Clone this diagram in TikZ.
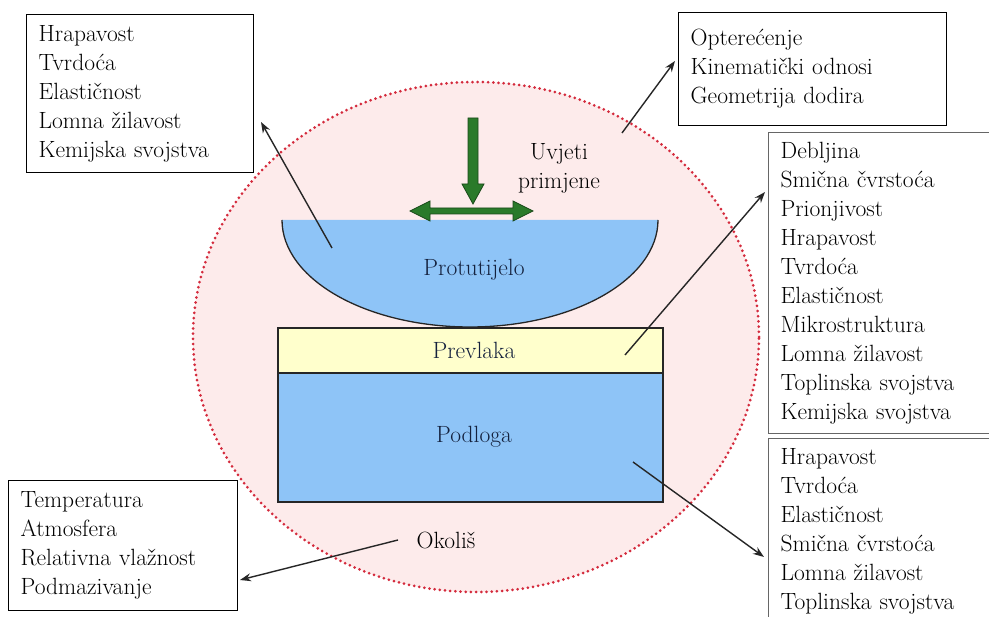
\documentclass[tikz,border=0pt]{standalone}
\usetikzlibrary{arrows.meta}
\begin{document}
\begin{tikzpicture}[x=1pt,y=-1pt,
  listbox/.style={draw=black, line width=1.3pt, fill=white, anchor=north west, align=left,
    inner xsep=12pt, inner ysep=0pt, font=\fontsize{23.5}{29}\selectfont, text=black},
  greybox/.style={listbox, draw=black!60},
  partlabel/.style={font=\fontsize{23.5}{29}\selectfont, text=navy},
  plainlabel/.style={font=\fontsize{23.5}{29}\selectfont, text=black, align=center},
  conn/.style={-{Stealth[length=11pt,width=8pt]}, line width=1.4pt, black!85},
  greenarrow/.style={fill=arrowgreen, draw=arrowgreen!60!black, line width=0.8pt}]
\definecolor{navy}{HTML}{14213D}
\definecolor{pinkfill}{HTML}{FDEBEB}
\definecolor{dotred}{HTML}{D42A3C}
\definecolor{partblue}{HTML}{8EC4F7}
\definecolor{coatyellow}{HTML}{FFFFCC}
\definecolor{arrowgreen}{HTML}{2A7A2A}
\useasboundingbox (0,0) rectangle (989,617);
\fill[white] (0,0) rectangle (989,617);
% environment ellipse
\fill[pinkfill] (476,337) ellipse[x radius=283pt, y radius=255pt];
\draw[dotred, line width=3pt, line cap=round, dash pattern=on 0pt off 5.2pt] (476,337) ellipse[x radius=283pt, y radius=255pt];
% counterbody
\fill[partblue] (282,220) arc[start angle=180, end angle=360, x radius=188pt, y radius=107pt] -- cycle;
\draw[line width=1.3pt, black!85] (282,220) arc[start angle=180, end angle=360, x radius=188pt, y radius=107pt];
% coating and substrate
\draw[line width=1.3pt, black!85, fill=coatyellow] (278,328) rectangle (663,373);
\draw[line width=1.3pt, black!85, fill=partblue] (278,373) rectangle (663,502);
\node[partlabel] (prot) at (474,270) {Protutijelo};
\node[partlabel] (prev) at (474,350) {Prevlaka};
\node[partlabel] (podl) at (474,437) {Podloga};
% green arrows
\draw[greenarrow] (468,118) -- (478,118) -- (478,184) -- (484,184) -- (473,204) -- (462,184) -- (468,184) -- cycle;
\draw[greenarrow] (410,211) -- (430,201) -- (430,208) -- (513,208) -- (513,201) -- (533,211) -- (513,221) -- (513,214) -- (430,214) -- (430,221) -- cycle;
\node[plainlabel] (uvjeti) at (559,168) {Uvjeti\\primjene};
\node[plainlabel] (okolis) at (446,540) {Okoliš};
% boxes
\node[listbox, text width=203pt, minimum width=227pt, minimum height=158pt] (b1) at (26,14)
  {Hrapavost\\Tvrdoća\\Elastičnost\\Lomna žilavost\\Kemijska svojstva};
\node[listbox, text width=244pt, minimum width=268pt, minimum height=113pt] (b2) at (678,12)
  {Opterećenje\\Kinematički odnosi\\Geometrija dodira};
\node[greybox, text width=216pt, minimum width=240pt, minimum height=301pt] (b3) at (768,132)
  {Debljina\\Smična čvrstoća\\Prionjivost\\Hrapavost\\Tvrdoća\\Elastičnost\\Mikrostruktura\\Lomna žilavost\\Toplinska svojstva\\Kemijska svojstva};
\node[greybox, text width=216pt, minimum width=240pt, minimum height=186pt] (b4) at (768,438)
  {Hrapavost\\Tvrdoća\\Elastičnost\\Smična čvrstoća\\Lomna žilavost\\Toplinska svojstva};
\node[listbox, text width=205pt, minimum width=229pt, minimum height=130pt] (b5) at (8,480)
  {Temperatura\\Atmosfera\\Relativna vlažnost\\Podmazivanje};
% connector ends
\coordinate (s1) at (332,248);
\coordinate (t1) at (261,122);
\coordinate (s2) at (622,133);
\coordinate (t2) at (675,61);
\coordinate (s3) at (625,355);
\coordinate (t3) at (765,192);
\coordinate (s4) at (633,462);
\coordinate (t4) at (764,557);
\coordinate (s5) at (398,540);
\coordinate (t5) at (240,580);
\draw[conn] (s1) -- (t1);
\draw[conn] (s2) -- (t2);
\draw[conn] (s3) -- (t3);
\draw[conn] (s4) -- (t4);
\draw[conn] (s5) -- (t5);
\end{tikzpicture}
\end{document}
